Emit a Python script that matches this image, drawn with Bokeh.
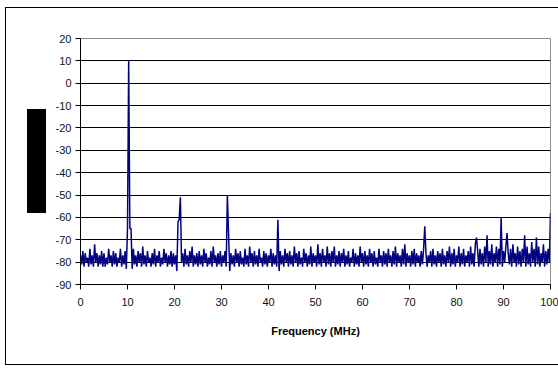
from bokeh.plotting import figure
from bokeh.models import FixedTicker, Range1d, PrintfTickFormatter
from bokeh.embed import file_html
from bokeh.resources import INLINE

# ---- data ----
bin_step_mhz = 0.25
noise_floor_db = [
    -77, -81, -75, -82, -76, -80, -78, -82, -74, -81, -77, -82, -72, -80, -76, -82, -77, -81, -75, -82,
    -76, -82, -78, -81, -74, -80, -77, -82, -75, -81, -76, -82, -78, -80, -74, -82, -77, -81, -75, -83,
    -76, -81, -77, -82, -83, -74, -81, -77, -82, -75, -80, -76, -82, -73, -81, -77, -82, -75, -80, -78,
    -82, -76, -81, -74, -82, -77, -80, -75, -82, -78, -81, -74, -80, -76, -82, -77, -81, -75, -82, -76,
    -81, -77, -84, -78, -80, -76, -80, -76, -82, -74, -81, -77, -82, -75, -80, -73, -82, -77, -81, -76,
    -82, -75, -81, -77, -82, -74, -80, -76, -82, -78, -81, -75, -82, -73, -80, -77, -82, -76, -81, -75,
    -82, -77, -80, -75, -82, -78, -81, -84, -76, -81, -77, -82, -74, -80, -76, -82, -75, -81, -78, -82,
    -74, -81, -77, -82, -73, -80, -76, -82, -75, -81, -77, -82, -74, -80, -78, -82, -75, -81, -76, -82,
    -77, -80, -74, -82, -76, -81, -77, -82, -78, -84, -75, -81, -77, -82, -74, -80, -76, -82, -75, -81,
    -77, -82, -73, -80, -76, -82, -75, -81, -78, -82, -74, -80, -76, -82, -77, -81, -73, -82, -76, -80,
    -77, -82, -72, -81, -76, -82, -74, -80, -77, -82, -73, -81, -76, -82, -75, -80, -73, -82, -77, -81,
    -75, -82, -76, -80, -74, -82, -77, -81, -75, -82, -78, -80, -74, -82, -76, -81, -77, -82, -73, -80,
    -76, -82, -75, -81, -77, -82, -74, -80, -76, -82, -75, -81, -78, -82, -74, -80, -77, -82, -75, -81,
    -76, -82, -74, -80, -77, -82, -75, -81, -73, -82, -76, -80, -77, -82, -74, -81, -72, -82, -76, -80,
    -77, -82, -75, -81, -74, -82, -76, -80, -77, -82, -75, -81, -74, -80, -76, -82, -77, -80, -75, -82,
    -74, -81, -77, -82, -75, -80, -76, -82, -74, -81, -77, -82, -75, -80, -73, -82, -76, -81, -74, -82,
    -77, -80, -73, -82, -76, -81, -74, -82, -77, -80, -75, -82, -73, -81, -76, -82, -72, -80, -75, -82,
    -74, -81, -76, -82, -73, -80, -75, -82, -75, -81, -72, -82, -76, -80, -73, -82, -74, -81, -76, -82,
    -75, -80, -73, -81, -76, -81, -74, -82, -72, -80, -76, -82, -73, -81, -75, -82, -74, -80, -76, -82,
    -73, -81, -76, -82, -71, -80, -74, -82, -75, -81, -73, -82, -76, -80, -72, -82, -75, -81, -74, -80,
    -80,
]
spur_freqs_mhz = [10.0, 10.25, 10.5, 10.75, 20.75, 21.0, 21.25, 31.25, 31.5, 42.0,
                  73.25, 84.25, 86.5, 89.5, 90.75, 94.5, 97.0, 100.0]
spur_levels_db = [-65, 10, -65, -65, -62, -61, -51, -50, -67, -61,
                  -64, -69, -68, -60, -67, -68, -69, -58]
x_ticks = [0, 10, 20, 30, 40, 50, 60, 70, 80, 90, 100]
y_ticks = [-90, -80, -70, -60, -50, -40, -30, -20, -10, 0, 10, 20]

# ---- build the trace ----
freqs = [i * bin_step_mhz for i in range(len(noise_floor_db))]
levels = list(noise_floor_db)
for f, lv in zip(spur_freqs_mhz, spur_levels_db):
    levels[int(round(f / bin_step_mhz))] = lv

p = figure(width=558, height=368, output_backend="svg", toolbar_location=None,
           x_range=Range1d(0, 100), y_range=Range1d(-90, 20),
           min_border_left=80, min_border_right=8, min_border_top=38, min_border_bottom=84)
p.stylesheets = [
    ":host { position: relative; }",
    ":host::after { content: ''; position: absolute; left: 5px; top: 7px; width: 560px; height: 358px;"
    " border: 1px solid #000; pointer-events: none; box-sizing: border-box; }",
    ":host::before { content: ''; position: absolute; left: 27px; top: 109px; width: 19px; height: 104px;"
    " background: #000; z-index: 5; pointer-events: none; }",
]

p.line(freqs, levels, line_color="#000080", line_width=1.5)

p.background_fill_color = "white"
p.border_fill_color = "white"
p.outline_line_color = "#8c8c8c"
p.outline_line_width = 1

p.xgrid.visible = False
p.ygrid.grid_line_color = "#000000"
p.ygrid.grid_line_width = 1
p.ygrid.ticker = FixedTicker(ticks=y_ticks)

for ax in (p.xaxis[0], p.yaxis[0]):
    ax.axis_line_color = "#000000"
    ax.major_tick_line_color = "#000000"
    ax.major_tick_out = 5
    ax.major_tick_in = 0
    ax.minor_tick_line_color = None
    ax.major_label_text_font = "Liberation Sans"
    ax.major_label_text_font_size = "11px"
    ax.major_label_text_color = "#111111"
    ax.formatter = PrintfTickFormatter(format="%d")

p.xaxis[0].ticker = FixedTicker(ticks=x_ticks)
p.yaxis[0].ticker = FixedTicker(ticks=y_ticks)
p.xaxis[0].major_label_standoff = 8
p.yaxis[0].major_label_standoff = 4

p.xaxis[0].axis_label = "Frequency (MHz)"
p.xaxis[0].axis_label_text_font = "Liberation Sans"
p.xaxis[0].axis_label_text_font_size = "11px"
p.xaxis[0].axis_label_text_font_style = "bold"
p.xaxis[0].axis_label_text_color = "#000000"
p.xaxis[0].axis_label_standoff = 16

open("out.html", "w").write(file_html(p, INLINE))
